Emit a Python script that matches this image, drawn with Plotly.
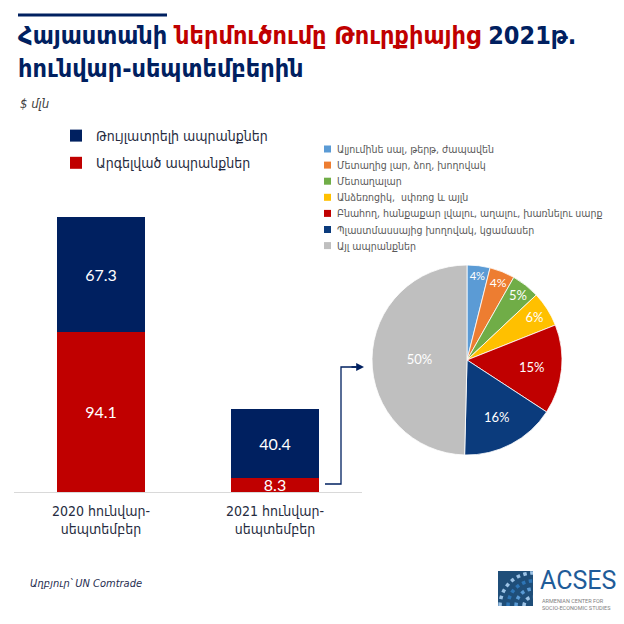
import plotly.graph_objects as go
import numpy as np

W = H = 624
def px(x):
    return x / W
def py(y):
    return 1 - y / H

# ---------------- data ----------------
categories = ["2020 հունվար-<br>սեպտեմբեր", "2021 հունվար-<br>սեպտեմբեր"]
banned_values = [94.1, 8.3]
allowed_values = [67.3, 40.4]
series_names = ["Թույլատրելի ապրանքներ", "Արգելված ապրանքներ"]

pie_labels = [
    "Ալյումինե սալ, թերթ, ժապավեն",
    "Մետաղից լար, ձող, խողովակ",
    "Մետաղալար",
    "Անձեռոցիկ,  սփռոց և այլն",
    "Բնահող, հանքաքար լվալու, աղալու, խառնելու սարք",
    "Պլաստմասսայից խողովակ, կցամասեր",
    "Այլ ապրանքներ",
]
pie_values = [3.9, 4.3, 4.8, 6.0, 15.2, 16.2, 49.6]

# ---------------- styles ----------------
NAVY = "#002060"
RED = "#c00000"
pie_colors = ["#5b9bd5", "#ed7d31", "#70ad47", "#ffc000", "#c00000", "#0b3b7c", "#bfbfbf"]
ARM = "DejaVu Sans Condensed, DejaVu Sans, sans-serif"
NUM = "Lato, Noto Sans, sans-serif"

fig = go.Figure()

fig.add_trace(go.Bar(
    x=categories, y=banned_values, name=series_names[1],
    marker=dict(color=RED, line=dict(width=0)),
    text=[f"{v:.1f}" for v in banned_values], textposition="inside",
    insidetextanchor="middle", constraintext="none",
    textfont=dict(color="white", size=16, family=NUM),
    legendgroup="b", legendrank=2, hoverinfo="skip",
))
fig.add_trace(go.Bar(
    x=categories, y=allowed_values, name=series_names[0],
    marker=dict(color=NAVY, line=dict(width=0)),
    text=[f"{v:.1f}" for v in allowed_values], textposition="inside",
    insidetextanchor="middle", constraintext="none",
    textfont=dict(color="white", size=16, family=NUM),
    legendgroup="a", legendrank=1, hoverinfo="skip",
))

fig.add_trace(go.Pie(
    labels=pie_labels, values=pie_values, sort=False, direction="clockwise",
    rotation=0, showlegend=False,
    marker=dict(colors=pie_colors, line=dict(color="white", width=0.8)),
    texttemplate="%{percent:.0%}", textposition="inside",
    insidetextorientation="horizontal",
    textfont=dict(color="white", size=13, family=NUM),
    domain=dict(x=[px(372), px(562)], y=[py(455), py(265)]),
    hoverinfo="skip",
))

fig.update_layout(
    width=W, height=H, autosize=False,
    margin=dict(l=0, r=0, t=0, b=0),
    paper_bgcolor="white", plot_bgcolor="white",
    barmode="stack", bargap=0.49,
    xaxis=dict(domain=[px(14), px(362)], showline=True, linecolor="#d9d9d9",
               linewidth=1, ticks="", showgrid=False, zeroline=False,
               tickfont=dict(size=14, color="#262b40", family=ARM),
               ticklabelstandoff=6, fixedrange=True),
    yaxis=dict(domain=[py(492), py(200)], range=[0, 171.4], visible=False,
               fixedrange=True),
    showlegend=True,
    legend=dict(x=px(56), y=py(120), xanchor="left", yanchor="top",
                traceorder="grouped", tracegroupgap=6,
                font=dict(size=14, color="#262b40", family=ARM),
                bgcolor="rgba(0,0,0,0)"),
)

annotations = []
shapes = []

# title
annotations.append(dict(
    x=px(16), y=py(19), xref="paper", yref="paper", xanchor="left", yanchor="top",
    align="left", showarrow=False,
    text=("<b><span style='color:%s'>Հայաստանի </span>"
          "<span style='color:%s'>ներմուծումը Թուրքիայից</span>"
          "<span style='color:%s'> 2021թ.</span><br>"
          "<span style='color:%s'>հունվար-սեպտեմբերին</span></b>") % (NAVY, RED, NAVY, NAVY),
    font=dict(size=25, family=ARM),
))
shapes.append(dict(type="line", xref="paper", yref="paper",
                   x0=px(18), x1=px(167), y0=py(15), y1=py(15),
                   line=dict(color=NAVY, width=3)))

# unit
annotations.append(dict(
    x=px(18), y=py(104), xref="paper", yref="paper", xanchor="left", yanchor="middle",
    showarrow=False, text="<i>$ մլն</i>",
    font=dict(size=13, color="#404040", family=ARM),
))

# pie legend
leg_y0, leg_dy = 149, 16.1
for i, (lab, col) in enumerate(zip(pie_labels, pie_colors)):
    yc = leg_y0 + leg_dy * i
    shapes.append(dict(type="rect", xref="paper", yref="paper",
                       x0=px(324), x1=px(331), y0=py(yc - 3.5), y1=py(yc + 3.5),
                       fillcolor=col, line=dict(width=0)))
    annotations.append(dict(
        x=px(335), y=py(yc), xref="paper", yref="paper", xanchor="left",
        yanchor="middle", showarrow=False, text=lab,
        font=dict(size=10.5, color="#595959", family=ARM),
    ))

# connector arrow from 2021 bar to pie
shapes.append(dict(type="path", xref="paper", yref="paper",
                   path="M %f,%f L %f,%f L %f,%f L %f,%f" % (
                       px(325), py(484), px(341), py(484), px(341), py(367), px(356), py(367)),
                   line=dict(color=NAVY, width=1.3)))
annotations.append(dict(
    x=px(364), y=py(367), ax=-14, ay=0, xref="paper", yref="paper",
    axref="pixel", ayref="pixel", showarrow=True, arrowhead=2, arrowsize=1.2,
    arrowwidth=1.3, arrowcolor=NAVY, text="",
))

# source
annotations.append(dict(
    x=px(28), y=py(583), xref="paper", yref="paper", xanchor="left", yanchor="middle",
    showarrow=False, text="<i>Աղբյուր՝ UN Comtrade</i>",
    font=dict(size=11, color="#1f2d50", family=ARM),
))

# ACSES logo (decoration)
lx0, ly0, ls = 498, 571, 35
shapes.append(dict(type="rect", xref="paper", yref="paper",
                   x0=px(lx0), x1=px(lx0 + ls), y0=py(ly0 + ls), y1=py(ly0),
                   fillcolor="#1f4e79", line=dict(width=0)))
cx, cy = lx0 + ls, ly0 + ls
for r, col in [(9, "#9dc3e6"), (17, "#5b9bd5"), (25, "#2e75b6"), (33, "#9dc3e6")]:
    t = np.linspace(np.pi, 1.5 * np.pi, 20)
    xs = cx + r * np.cos(t)
    ys = cy + r * np.sin(t)
    path = "M " + " L ".join("%f,%f" % (px(a), py(b)) for a, b in zip(xs, ys))
    shapes.append(dict(type="path", xref="paper", yref="paper", path=path,
                       line=dict(color=col, width=3.5, dash="dot")))
annotations.append(dict(
    x=px(538), y=py(580), xref="paper", yref="paper", xanchor="left", yanchor="middle",
    showarrow=False, text="ACSES", font=dict(size=25, color="#1f5c99", family="Roboto, Lato, sans-serif"),
))
annotations.append(dict(
    x=px(540), y=py(604), xref="paper", yref="paper", xanchor="left", yanchor="middle",
    showarrow=False, align="left",
    text="ARMENIAN CENTER FOR<br>SOCIO-ECONOMIC STUDIES",
    font=dict(size=5.5, color="#7f7f7f", family="Roboto, sans-serif"),
))

fig.update_layout(annotations=annotations, shapes=shapes)

fig.write_html("out.html", post_script="document.body.style.margin='0';",
               config={"displayModeBar": False})
